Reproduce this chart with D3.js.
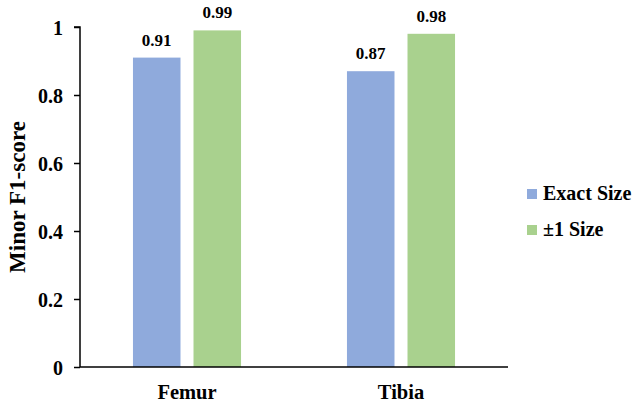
<!DOCTYPE html>
<html><head><meta charset="utf-8">
<script src="https://cdn.jsdelivr.net/npm/d3@7"></script>
<style>body{margin:0;background:#fff}svg{display:block}</style>
</head><body>
<script>
const categories = ["Femur", "Tibia"];
const seriesNames = ["Exact Size", "±1 Size"];
const exactSize = [0.91, 0.87];
const plusMinusOne = [0.99, 0.98];
const yTicks = [0, 0.2, 0.4, 0.6, 0.8, 1];
const colors = ["#8faadc", "#a9d18e"];

const FONT = "Liberation Serif";
const W = 635, H = 403;
const svg = d3.select("body").append("svg").attr("width", W).attr("height", H);
const pL = 80, pR = 508, pT = 27, pB = 367;

const x0 = d3.scaleBand().domain(categories).range([pL, pR]).paddingInner(0.495).paddingOuter(0.2475);
const x1 = d3.scaleBand().domain(seriesNames).range([0, x0.bandwidth()]).paddingInner(0.215).paddingOuter(0);
const y = d3.scaleLinear().domain([0, 1]).range([pB, pT]);

const data = categories.map((c, i) => ({cat: c, vals: [exactSize[i], plusMinusOne[i]]}));

const g = svg.selectAll("g.cat").data(data).enter().append("g")
  .attr("transform", d => `translate(${x0(d.cat)},0)`);
g.selectAll("rect").data(d => d.vals.map((v, j) => ({s: seriesNames[j], v, j})))
  .enter().append("rect")
  .attr("x", d => x1(d.s)).attr("width", x1.bandwidth())
  .attr("y", d => y(d.v)).attr("height", d => y(0) - y(d.v))
  .attr("fill", d => colors[d.j]);
g.selectAll("text.val").data(d => d.vals.map((v, j) => ({s: seriesNames[j], v, j})))
  .enter().append("text")
  .attr("x", d => x1(d.s) + x1.bandwidth() / 2).attr("y", d => y(d.v) - 12)
  .attr("text-anchor", "middle").attr("font-size", 17)
  .text(d => d3.format(".2f")(d.v));

// y axis
const yAxis = d3.axisLeft(y).tickValues(yTicks).tickSize(6).tickFormat(d => d === 0 || d === 1 ? d3.format("d")(d) : d3.format(".1f")(d));
const ya = svg.append("g").attr("transform", `translate(${pL},0)`).call(yAxis);
ya.select(".domain").attr("stroke", "#000").attr("stroke-width", 1.5).attr("d", `M-6,${pT}H0V${pB}`);
ya.selectAll(".tick line").attr("stroke", "#000").attr("stroke-width", 1.5);
ya.selectAll(".tick text").attr("font-size", 20).attr("x", -17).attr("dy", "0.35em");

// x axis
const xAxis = d3.axisBottom(x0).tickSize(0).tickPadding(17);
const xa = svg.append("g").attr("transform", `translate(0,${pB})`).call(xAxis);
xa.select(".domain").attr("stroke", "#000").attr("stroke-width", 1.5).attr("d", `M${pL},0H${pR}`);
xa.selectAll(".tick text").attr("font-size", 20.5);

// y title
svg.append("text").attr("transform", `translate(25,${(pT + pB) / 2}) rotate(-90)`)
  .attr("text-anchor", "middle").attr("font-size", 23).text("Minor F1-score");

// legend
const lg = svg.selectAll("g.leg").data(seriesNames).enter().append("g")
  .attr("transform", (d, i) => `translate(527,${189 + i * 36})`);
lg.append("rect").attr("width", 10).attr("height", 10).attr("fill", (d, i) => colors[i]);
lg.append("text").attr("x", 16).attr("y", 11).attr("font-size", 20).text(d => d);

svg.selectAll("text").style("font-family", FONT).style("font-weight", "bold").style("fill", "#000");
</script>
</body></html>
